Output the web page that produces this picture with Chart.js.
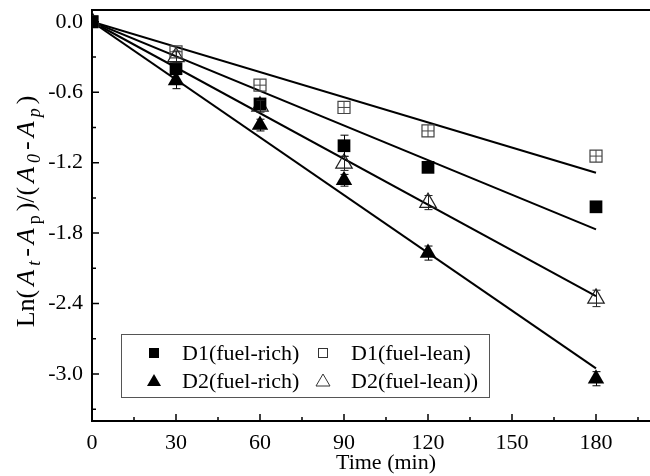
<!DOCTYPE html>
<html><head><meta charset="utf-8">
<script src="https://cdn.jsdelivr.net/npm/chart.js@4.4.0/dist/chart.umd.min.js"></script>
<style>
html,body{margin:0;padding:0;background:#fff;overflow:hidden}
#wrap{width:650px;height:476px;overflow:hidden;position:relative;background:#fff}
canvas{display:block}
</style></head>
<body><div id="wrap"><canvas id="c" width="680" height="476"></canvas></div>
<script>
// ---- data ----
const times = [0, 30, 60, 90, 120, 180];
const d1Rich = [0, -0.40, -0.70, -1.056, -1.24, -1.576];
const d1Lean = [0, -0.256, -0.54, -0.73, -0.93, -1.144];
const d2Rich = [0, -0.50, -0.88, -1.35, -1.97, -3.04];
const d2Lean = [0, -0.30, -0.72, -1.206, -1.54, -2.356];
const errD1Rich = [0, 0.02, 0.02, 0.09, 0.02, 0.02];
const errD2Rich = [0, 0.07, 0.05, 0.05, 0.06, 0.06];
const errD2Lean = [0, 0.05, 0.05, 0.06, 0.06, 0.07];
const fitTimes = [0, 180];
const fitD1Lean = [0, -1.286];
const fitD1Rich = [0, -1.768];
const fitD2Lean = [0, -2.336];
const fitD2Rich = [0, -2.952];
const xTickValues = [0, 30, 60, 90, 120, 150, 180];
const yTickValues = [0, -0.6, -1.2, -1.8, -2.4, -3.0];
const legendLabels = ['D1(fuel-rich)', 'D1(fuel-lean)', 'D2(fuel-rich)', 'D2(fuel-lean))'];
const xTitle = 'Time (min)';

const SERIF = "'Liberation Serif','Times New Roman',serif";
const FS = 22;
const pts = (ys) => times.map((t, i) => ({x: t, y: ys[i]}));
const fit = (ys) => fitTimes.map((t, i) => ({x: t, y: ys[i]}));

const lineDs = (ys) => ({type: 'line', data: fit(ys), borderColor: '#000', borderWidth: 2,
  pointRadius: 0, fill: false, order: 10, tension: 0});

const errorBars = {
  id: 'errorBars',
  afterDatasetsDraw(chart) {
    const ctx = chart.ctx, xs = chart.scales.x, ys = chart.scales.y;
    const sets = [[d1Rich, errD1Rich, '#000'], [d2Rich, errD2Rich, '#000'], [d2Lean, errD2Lean, '#222']];
    ctx.save();
    ctx.lineWidth = 1;
    for (const [vals, errs, col] of sets) {
      ctx.strokeStyle = col;
      vals.forEach((v, i) => {
        if (!errs[i]) return;
        const px = Math.round(xs.getPixelForValue(times[i])) + 0.5;
        const y1 = ys.getPixelForValue(v + errs[i]);
        const y2 = ys.getPixelForValue(v - errs[i]);
        ctx.beginPath();
        ctx.moveTo(px, y1); ctx.lineTo(px, y2);
        ctx.moveTo(px - 4, y1); ctx.lineTo(px + 4, y1);
        ctx.moveTo(px - 4, y2); ctx.lineTo(px + 4, y2);
        ctx.stroke();
      });
    }
    ctx.restore();
  }
};

const frame = {
  id: 'frame',
  afterDraw(chart) {
    const ctx = chart.ctx, ca = chart.chartArea, xs = chart.scales.x, ys = chart.scales.y;
    ctx.save();
    ctx.strokeStyle = '#000';
    ctx.lineWidth = 2;
    ctx.beginPath();
    ctx.moveTo(ca.left - 1, ca.top); ctx.lineTo(ca.right, ca.top);
    ctx.stroke();
    // inward ticks (major at tick values, continued with same step to the axis end; minor halfway)
    ctx.lineWidth = 1.5;
    ctx.beginPath();
    const xStep = xTickValues[1] - xTickValues[0];
    const xMarks = xTickValues.slice();
    while (xMarks[xMarks.length - 1] + xStep <= xs.max + 1e-9) xMarks.push(xMarks[xMarks.length - 1] + xStep);
    xMarks.forEach((v) => {
      const p = xs.getPixelForValue(v);
      ctx.moveTo(p, ca.bottom); ctx.lineTo(p, ca.bottom - 7);
      const mv = v + xStep / 2;
      if (mv <= xs.max) {
        const m = xs.getPixelForValue(mv);
        ctx.moveTo(m, ca.bottom); ctx.lineTo(m, ca.bottom - 4);
      }
    });
    const yStep = yTickValues[1] - yTickValues[0];
    yTickValues.forEach((v) => {
      const p = ys.getPixelForValue(v);
      ctx.moveTo(ca.left, p); ctx.lineTo(ca.left + 7, p);
      const mv = v + yStep / 2;
      if (mv >= ys.min) {
        const m = ys.getPixelForValue(mv);
        ctx.moveTo(ca.left, m); ctx.lineTo(ca.left + 4, m);
      }
    });
    ctx.stroke();

    // y axis title with italics and subscripts
    const segs = [
      ['Ln(', false, false], ['A', true, false], ['t', true, true], ['-', false, false],
      ['A', true, false], ['p', false, true], [')/(', false, false], ['A', true, false],
      ['0', true, true], ['-', false, false], ['A', true, false], ['p', true, true], [')', false, false]
    ];
    const big = 26, small = 18, gap = 4;
    const fontOf = (it, sub) => (it ? 'italic ' : '') + (sub ? small : big) + 'px ' + SERIF;
    let total = 0;
    segs.forEach(s => { ctx.font = fontOf(s[1], s[2]); total += ctx.measureText(s[0]).width; });
    total += gap * (segs.length - 1);
    ctx.translate(25, (ca.top + ca.bottom) / 2 - 4);
    ctx.rotate(-Math.PI / 2);
    ctx.fillStyle = '#000';
    ctx.textBaseline = 'alphabetic';
    let x = -total / 2;
    segs.forEach(s => {
      ctx.font = fontOf(s[1], s[2]);
      ctx.fillText(s[0], x, s[2] ? 15 : 9);
      x += ctx.measureText(s[0]).width + gap;
    });
    ctx.restore();

    // legend box
    ctx.save();
    const L = ca.left + 29, T = ca.top + 324, W = 368, H = 63;
    ctx.strokeStyle = '#555';
    ctx.lineWidth = 1;
    ctx.strokeRect(L + 0.5, T + 0.5, W, H);
    const rows = [T + 19, T + 47];
    const cols = [[L + 33, L + 61], [L + 202, L + 230]];
    ctx.font = FS + 'px ' + SERIF;
    ctx.fillStyle = '#000';
    ctx.textBaseline = 'middle';
    const sym = (kind, cx, cy) => {
      ctx.beginPath();
      if (kind === 'sqF') { ctx.fillStyle = '#000'; ctx.fillRect(cx - 5, cy - 5, 10, 10); }
      else if (kind === 'sqO') { ctx.strokeStyle = '#333'; ctx.lineWidth = 1; ctx.strokeRect(cx - 4.5, cy - 4.5, 9, 9); }
      else {
        ctx.moveTo(cx, cy - 7); ctx.lineTo(cx + 7, cy + 5); ctx.lineTo(cx - 7, cy + 5); ctx.closePath();
        if (kind === 'trF') { ctx.fillStyle = '#000'; ctx.fill(); }
        else { ctx.strokeStyle = '#333'; ctx.lineWidth = 1; ctx.stroke(); }
      }
      ctx.fillStyle = '#000';
    };
    const kinds = ['sqF', 'sqO', 'trF', 'trO'];
    legendLabels.forEach((lab, i) => {
      const r = Math.floor(i / 2), c = i % 2;
      sym(kinds[i], cols[c][0], rows[r]);
      ctx.fillText(lab, cols[c][1], rows[r] + 1);
    });
    ctx.restore();
  }
};

new Chart(document.getElementById('c'), {
  type: 'scatter',
  data: {
    datasets: [
      {label: legendLabels[0], data: pts(d1Rich), pointStyle: 'rect', pointRadius: 9,
        backgroundColor: '#000', borderColor: '#000', borderWidth: 0, order: 1},
      {label: legendLabels[1], data: pts(d1Lean), pointStyle: 'rect', pointRadius: 8.5,
        backgroundColor: 'rgba(0,0,0,0)', borderColor: '#444', borderWidth: 1.2, order: 1},
      {label: legendLabels[1] + ' err', data: pts(d1Lean), pointStyle: 'cross', pointRadius: 6,
        backgroundColor: 'rgba(0,0,0,0)', borderColor: '#444', borderWidth: 1, order: 1},
      {label: legendLabels[2], data: pts(d2Rich), pointStyle: 'triangle', pointRadius: 9.5,
        backgroundColor: '#000', borderColor: '#000', borderWidth: 0, order: 1},
      {label: legendLabels[3], data: pts(d2Lean), pointStyle: 'triangle', pointRadius: 9.5,
        backgroundColor: 'rgba(0,0,0,0)', borderColor: '#222', borderWidth: 1.2, order: 1},
      lineDs(fitD1Lean), lineDs(fitD1Rich), lineDs(fitD2Lean), lineDs(fitD2Rich)
    ]
  },
  options: {
    responsive: false,
    animation: false,
    layout: {autoPadding: false, padding: {left: 0, right: 0, top: 10, bottom: 0}},
    plugins: {legend: {display: false}, tooltip: {enabled: false}},
    scales: {
      x: {
        type: 'linear', min: 0, max: 210,
        afterBuildTicks: (s) => { s.ticks = xTickValues.map(v => ({value: v})); },
        afterFit: (s) => { s.height = 55; s.paddingLeft = 0; s.paddingRight = 0; },
        grid: {display: true, drawOnChartArea: false, drawTicks: false},
        border: {display: true, width: 2, color: '#000'},
        ticks: {color: '#000', padding: 9, font: {family: SERIF, size: FS}, maxRotation: 0,
          callback: (v) => String(v)},
        title: {display: true, text: xTitle, color: '#000', font: {family: SERIF, size: FS},
          padding: {top: 0, bottom: 0}}
      },
      y: {
        type: 'linear', min: -3.4, max: 0.1,
        afterBuildTicks: (s) => { s.ticks = yTickValues.map(v => ({value: v})); },
        afterFit: (s) => { s.width = 92; s.paddingTop = 0; s.paddingBottom = 0; },
        grid: {display: true, drawOnChartArea: false, drawTicks: false},
        border: {display: true, width: 2, color: '#000'},
        ticks: {color: '#000', padding: 9, font: {family: SERIF, size: FS},
          callback: (v) => Number(v).toFixed(1)}
      }
    }
  },
  plugins: [errorBars, frame]
});
</script>
</body></html>
